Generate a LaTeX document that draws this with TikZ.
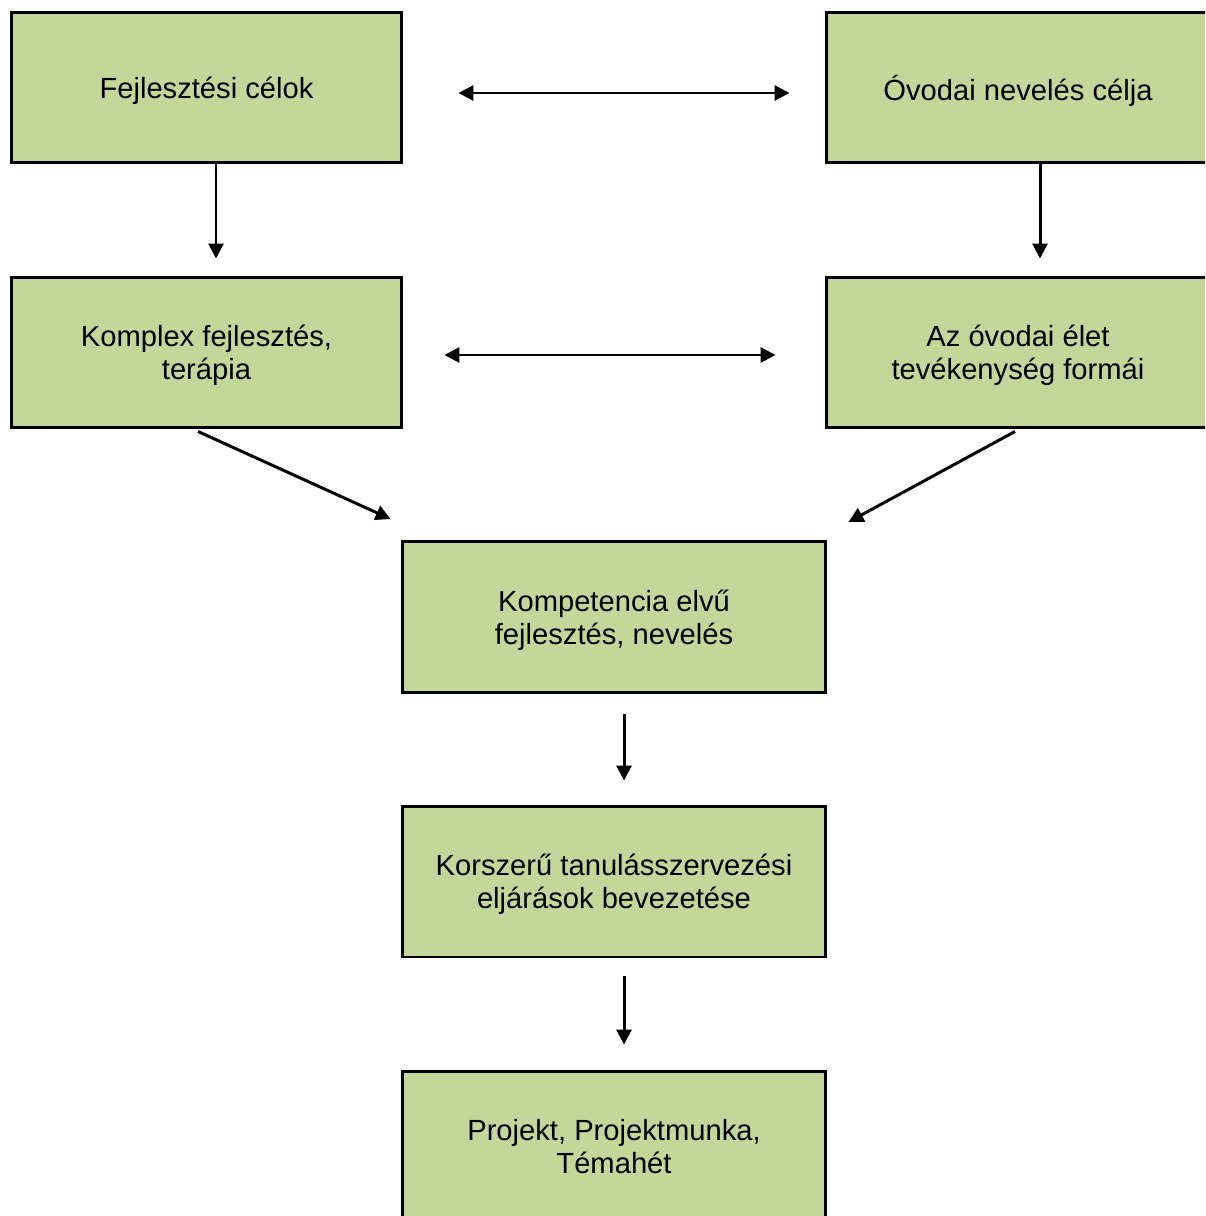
\documentclass[tikz,border=0pt]{standalone}
\usepackage{fontspec}
\setmainfont{Liberation Sans}
\usetikzlibrary{arrows.meta, calc}
\definecolor{boxgreen}{HTML}{C4D79B}

\begin{document}
\begin{tikzpicture}[
        x=0.02cm, y=-0.02cm,
        box/.style={draw=black, fill=boxgreen, line width=1.7pt,
                    minimum width=7.82cm, minimum height=3.02cm,
                    inner sep=0pt, align=center, text depth=0pt,
                    font=\fontsize{16.6}{18.7}\selectfont},
        rightbox/.style={box, minimum width=7.68cm},
        widebox/.style={box, minimum width=8.48cm},
        arr/.style={-{Triangle[length=8.5pt, width=8.5pt]}, line width=1.7pt},
        darr/.style={{Triangle[length=8.5pt, width=8.5pt]}-{Triangle[length=8.5pt, width=8.5pt]}, line width=1.7pt}
    ]
    \useasboundingbox (0,0) rectangle (1205,1216);
    \clip (0,0) rectangle (1205,1216);
    % Top row
    \node[box] (fej)  at (206.5, 87.5)  {Fejlesztési célok};
    \node[rightbox] (ovo)  at (1018, 87.5) {Óvodai nevelés célja};
    % Second row
    \node[box] (kom)  at (206.5, 352.5)  {Komplex fejlesztés,\\terápia};
    \node[rightbox] (elet) at (1018, 352.5) {Az óvodai élet\\tevékenység formái};
    % Middle column
    \node[widebox] (komp) at (614, 617)    {Kompetencia elvű\\fejlesztés, nevelés};
    \node[widebox] (kor)  at (614, 881.5)  {Korszerű tanulásszervezési\\eljárások bevezetése};
    \node[widebox] (proj) at (614, 1146.5) {Projekt, Projektmunka,\\Témahét};
    % Horizontal links
    \draw[darr] ($(fej.east)+(55,5.5)$) -- ($(ovo.west)+(-35,5.5)$);
    \draw[darr] ($(kom.east)+(41,2.5)$) -- ($(elet.west)+(-49,2.5)$);
    % Downward links
    \draw[arr] ($(fej.south)+(9.5,0)$) -- ($(kom.north)+(9.5,-17)$);
    \draw[arr] ($(ovo.south)+(22,0)$) -- ($(elet.north)+(22,-17)$);
    \draw[arr] ($(kom.south)+(-8.5,2)$) -- ($(komp.north west)+(-10,-21)$);
    \draw[arr] ($(elet.south)+(-3,2)$) -- ($(komp.north east)+(21,-18)$);
    \draw[arr] ($(komp.south)+(10,20)$) -- ($(kor.north)+(10,-24)$);
    \draw[arr] ($(kor.south)+(10,18)$) -- ($(proj.north)+(10,-25)$);
\end{tikzpicture}
\end{document}
